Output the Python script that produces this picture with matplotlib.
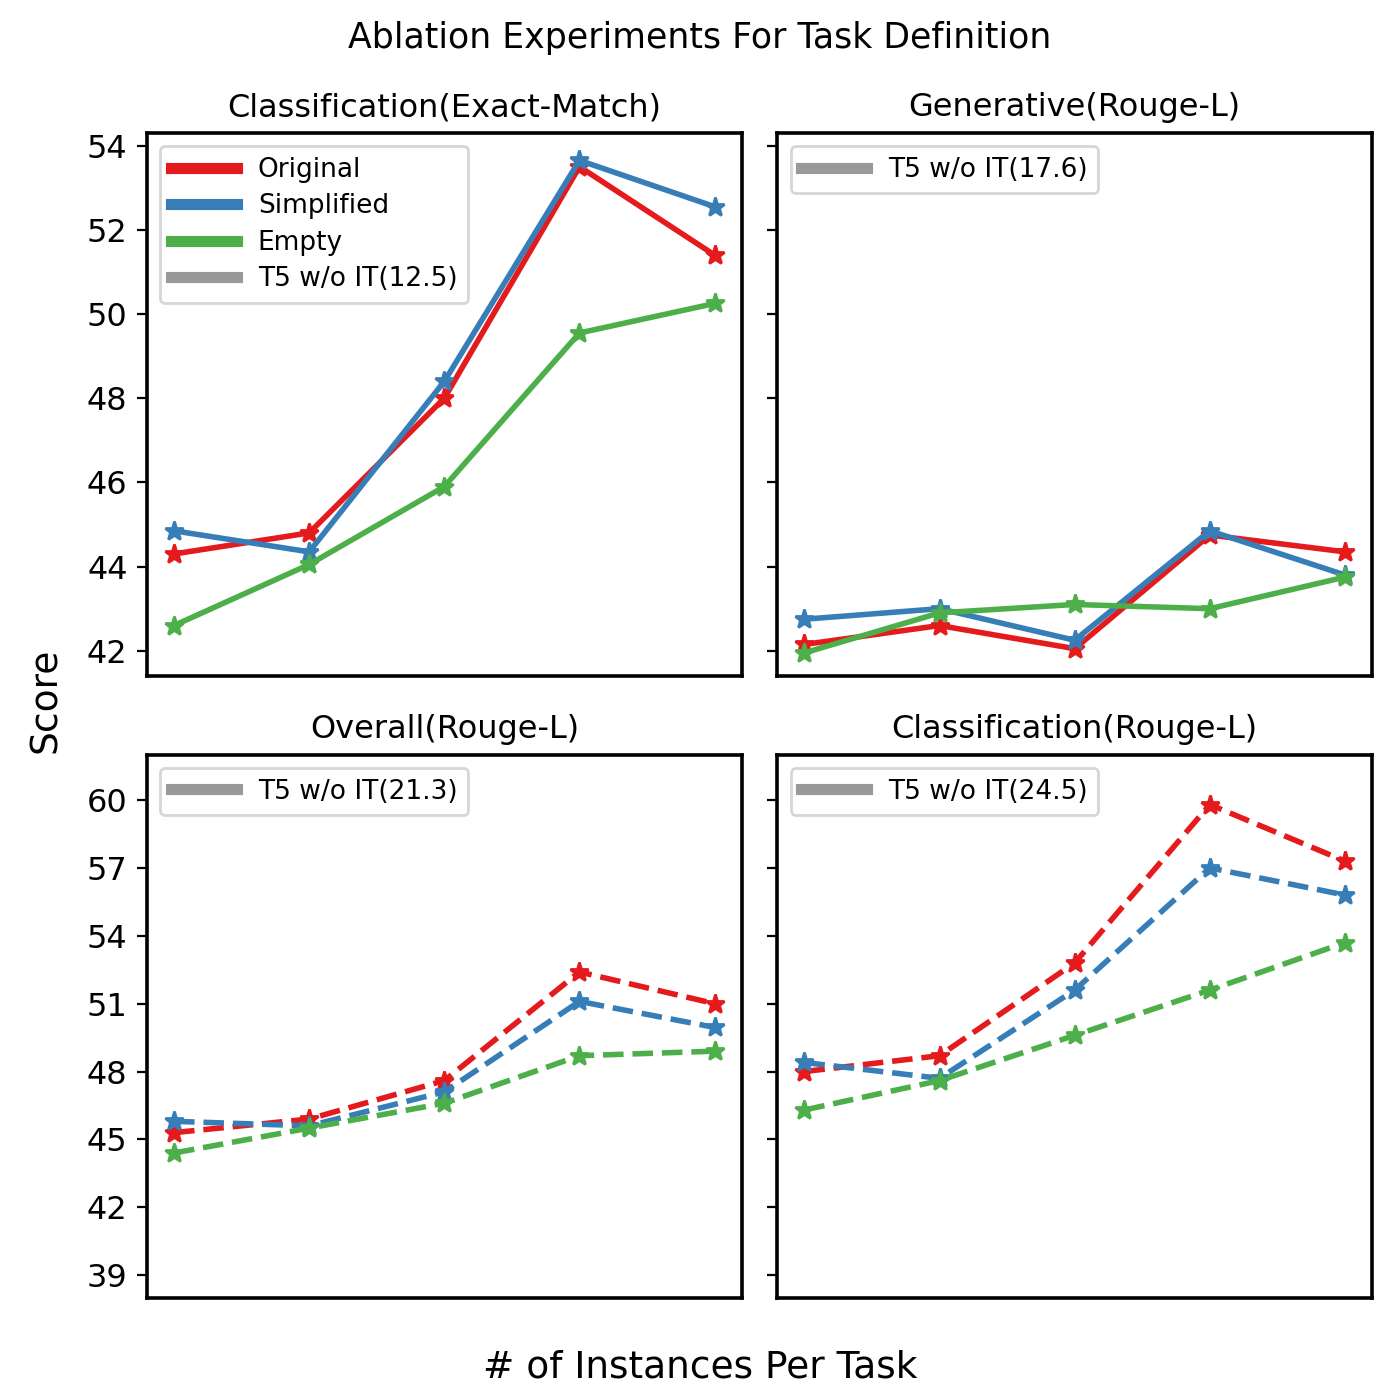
import matplotlib
matplotlib.use("Agg")
import matplotlib.pyplot as plt

instances = [0, 1, 2, 3, 4]
series_names = ["Original", "Simplified", "Empty"]
colors = ["#e41a1c", "#377eb8", "#4daf4a"]

titles = ["Classification(Exact-Match)", "Generative(Rouge-L)",
          "Overall(Rouge-L)", "Classification(Rouge-L)"]
baselines = [12.5, 17.6, 21.3, 24.5]

cls_em = [[44.3, 44.8, 48.0, 53.5, 51.4],
          [44.85, 44.35, 48.4, 53.65, 52.55],
          [42.6, 44.05, 45.9, 49.55, 50.25]]
gen_rl = [[42.15, 42.6, 42.05, 44.75, 44.35],
          [42.75, 43.0, 42.25, 44.85, 43.8],
          [41.95, 42.9, 43.1, 43.0, 43.75]]
all_rl = [[45.3, 45.9, 47.6, 52.4, 51.0],
          [45.8, 45.6, 47.1, 51.1, 49.95],
          [44.4, 45.5, 46.6, 48.7, 48.9]]
cls_rl = [[48.0, 48.7, 52.8, 59.8, 57.3],
          [48.4, 47.7, 51.6, 57.0, 55.8],
          [46.3, 47.6, 49.6, 51.6, 53.7]]
panels = [cls_em, gen_rl, all_rl, cls_rl]

fig, axes = plt.subplots(2, 2, figsize=(7, 7), sharey="row")
for i, ax in enumerate(axes.flat):
    style = "-" if i < 2 else "--"
    for name, col, vals in zip(series_names, colors, panels[i]):
        ax.plot(instances, vals, style, color=col, marker="*", markersize=7,
                linewidth=2, label=name)
    # baseline sits far below the visible range; only its legend entry shows
    ax.axhline(baselines[i], color="#999999", linewidth=4,
               label=f"T5 w/o IT({baselines[i]})")
    ax.set_title(titles[i], fontsize=11.5)
    ax.set_xticks([])
    ax.set_xlim(-0.2, 4.2)
    for s in ax.spines.values():
        s.set_linewidth(1.3)
    ax.tick_params(labelsize=11.5)
    h, l = ax.get_legend_handles_labels()
    if i == 0:
        leg = ax.legend(loc="upper left", fontsize=9.5, handlelength=2.5,
                        labelspacing=0.4)
    else:
        leg = ax.legend(h[-1:], l[-1:], loc="upper left", fontsize=9.5, handlelength=2.5)
    for line in leg.get_lines():
        line.set_linewidth(4)
        line.set_marker("")

axes[0, 0].set_ylim(41.4, 54.3)
axes[0, 0].set_yticks([42, 44, 46, 48, 50, 52, 54])
axes[1, 0].set_ylim(38.0, 62.0)
axes[1, 0].set_yticks([39, 42, 45, 48, 51, 54, 57, 60])

fig.suptitle("Ablation Experiments For Task Definition", fontsize=12.5, y=0.985)
fig.supxlabel("# of Instances Per Task", fontsize=13.5)
fig.supylabel("Score", fontsize=13.5)
fig.subplots_adjust(left=0.105, right=0.98, top=0.905, bottom=0.073, wspace=0.06, hspace=0.145)
fig.savefig("out.png", dpi=200)
